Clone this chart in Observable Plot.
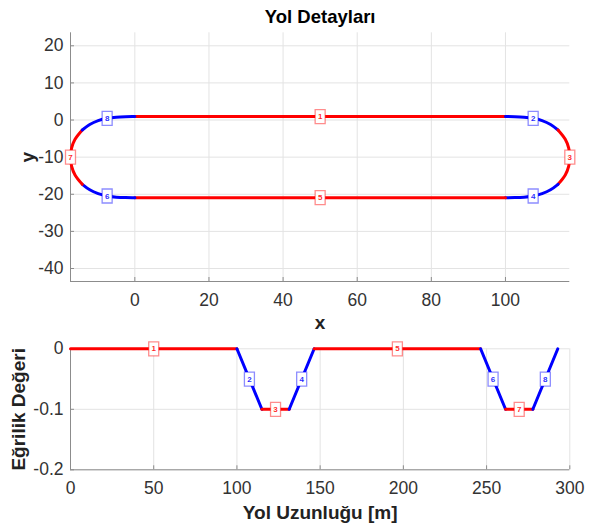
<!DOCTYPE html>
<html>
<head>
<meta charset="utf-8">
<script src="https://cdn.jsdelivr.net/npm/d3@7"></script>
<script src="https://cdn.jsdelivr.net/npm/@observablehq/plot@0.6"></script>
<style>
  html, body { margin: 0; padding: 0; background: #fff; }
  #chart { width: 600px; height: 527px; position: relative; background: #fff; }
  #chart svg { display: block; }
</style>
</head>
<body>
<div id="chart"></div>
<script>
// ---- Data ----
// Road segments: 1..8, with type (straight / clothoid / arc)
const segIds = [1, 2, 3, 4, 5, 6, 7, 8];
const segTypes = ["straight", "clothoid", "arc", "clothoid", "straight", "clothoid", "arc", "clothoid"];

// Road centre-line points (x, y), grouped by segment
const roadSeg = [
  1, 1,
  2, 2, 2, 2, 2, 2, 2,
  3, 3, 3, 3, 3, 3, 3,
  4, 4, 4, 4, 4, 4, 4,
  5, 5,
  6, 6, 6, 6, 6, 6, 6,
  7, 7, 7, 7, 7, 7, 7,
  8, 8, 8, 8, 8, 8, 8
];
const roadX = [
  0, 100,
  100, 102.5, 104.997, 107.474, 109.889, 112.165, 114.178,
  114.178, 116.138, 117.051, 117.362, 117.051, 116.138, 114.178,
  114.178, 112.165, 109.889, 107.474, 104.997, 102.5, 100,
  100, 0,
  0, -2.5, -4.997, -7.474, -9.889, -12.165, -14.178,
  -14.178, -16.138, -17.051, -17.362, -17.051, -16.138, -14.178,
  -14.178, -12.165, -9.889, -7.474, -4.997, -2.5, 0
];
const roadY = [
  0.919, 0.919,
  0.919, 0.902, 0.780, 0.462, -0.183, -1.209, -2.683,
  -2.683, -5.206, -7.526, -10, -12.474, -14.794, -17.317,
  -17.317, -18.791, -19.817, -20.462, -20.780, -20.902, -20.919,
  -20.919, -20.919,
  -20.919, -20.902, -20.780, -20.462, -19.817, -18.791, -17.317,
  -17.317, -14.794, -12.474, -10, -7.526, -5.206, -2.683,
  -2.683, -1.209, -0.183, 0.462, 0.780, 0.902, 0.919
];
// Segment label anchor points on the road
const labelX = [50, 107.474, 117.362, 107.474, 50, -7.474, -17.362, -7.474];
const labelY = [0.919, 0.462, -10, -20.462, -20.919, -20.462, -10, 0.462];

// Curvature profile: segment boundaries (road length, m) and curvature values
const kStation = [0, 100, 115, 131.4, 146.4, 246.4, 261.4, 277.8, 292.8];
const kValue   = [0, 0, -0.1, -0.1, 0, 0, -0.1, -0.1, 0];

// Tick labels
const topXTicks = [0, 20, 40, 60, 80, 100];
const topYTicks = [-40, -30, -20, -10, 0, 10, 20];
const botXTicks = [0, 50, 100, 150, 200, 250, 300];
const botYTicks = [-0.2, -0.1, 0];

// Texts
const titleText = "Yol Detayları";
const topXLabel = "x";
const topYLabel = "y";
const botXLabel = "Yol Uzunluğu [m]";
const botYLabel = "Eğrilik Değeri";

// ---- Styles ----
const typeColor = {straight: "#ff0000", arc: "#ff0000", clothoid: "#0000ff"};
const typeBorder = {straight: "rgba(255,0,0,0.45)", arc: "rgba(255,0,0,0.45)", clothoid: "rgba(0,0,255,0.45)"};
const FONT = "'Liberation Sans', Arial, Helvetica, sans-serif";
const gridColor = "#e3e3e3";
const axisColor = "#8c8c8c";
const tickTextColor = "#333";
const boxSymbol = { draw(ctx) { ctx.rect(-5, -7, 10, 14); } };

// ---- Build tables ----
const road = roadX.map((x, i) => ({x, y: roadY[i], seg: roadSeg[i], type: segTypes[roadSeg[i] - 1]}));
const topLabels = segIds.map((id, i) => ({id, x: labelX[i], y: labelY[i], type: segTypes[i]}));
const curv = [];
segIds.forEach((id, i) => {
  curv.push({s: kStation[i], k: kValue[i], seg: id, type: segTypes[i]});
  curv.push({s: kStation[i + 1], k: kValue[i + 1], seg: id, type: segTypes[i]});
});
const botLabels = segIds.map((id, i) => ({
  id,
  s: (kStation[i] + kStation[i + 1]) / 2,
  k: (kValue[i] + kValue[i + 1]) / 2,
  type: segTypes[i]
}));

const fmt = d => String(d);

function labelMarks(data, xk, yk) {
  return [
    Plot.dot(data, {x: xk, y: yk, symbol: boxSymbol, r: 5, fill: "white",
      stroke: d => typeBorder[d.type], strokeWidth: 1.3}),
    Plot.text(data, {x: xk, y: yk, text: d => String(d.id), fill: d => typeColor[d.type],
      fontSize: 8, fontWeight: "bold", fillOpacity: 0.85})
  ];
}

// ---- Top chart ----
const xDomTop = [-17.36, 117.36];
const yDomTop = [-43.5, 23.5];
const topChart = Plot.plot({
  width: 600, height: 335,
  marginTop: 32.3, marginBottom: 54, marginLeft: 70, marginRight: 30.7,
  x: {domain: xDomTop},
  y: {domain: yDomTop},
  color: {type: "identity"},
  style: {fontFamily: FONT, fontSize: "17.5px", color: tickTextColor, background: "white", overflow: "visible"},
  marks: [
    Plot.gridX(topXTicks, {stroke: gridColor, strokeOpacity: 1}),
    Plot.gridY(topYTicks, {stroke: gridColor, strokeOpacity: 1}),
    Plot.ruleX([xDomTop[0]], {stroke: axisColor}),
    Plot.ruleY([yDomTop[0]], {stroke: axisColor}),
    Plot.axisX({ticks: topXTicks, tickSize: 4, dy: -4, fill: "none", stroke: axisColor, label: null}),
    Plot.axisY({ticks: topYTicks, tickSize: 4, dx: 4, fill: "none", stroke: axisColor, label: null}),
    Plot.axisX({ticks: topXTicks, tickSize: 0, tickPadding: 12, tickFormat: fmt, label: null}),
    Plot.axisY({ticks: topYTicks, tickSize: 0, tickPadding: 7, tickFormat: fmt, label: null}),
    Plot.line(road, {x: "x", y: "y", z: "seg", stroke: d => typeColor[d.type], strokeWidth: 3, curve: "catmull-rom"}),
    ...labelMarks(topLabels, "x", "y"),
    Plot.text([titleText], {text: d => d, frameAnchor: "top", lineAnchor: "middle", dy: -15.5, fontWeight: "bold", fontSize: 18.5, fill: "#000"}),
    Plot.text([topXLabel], {text: d => d, frameAnchor: "bottom", lineAnchor: "middle", dy: 41, fontWeight: "bold", fontSize: 19, fill: "#222"}),
    Plot.text([topYLabel], {text: d => d, frameAnchor: "left", textAnchor: "middle", lineAnchor: "middle", dx: -43, rotate: -90, fontWeight: "bold", fontSize: 19, fill: "#222"})
  ]
});

// ---- Bottom chart ----
const xDomBot = [0, 300];
const yDomBot = [-0.2, 0];
const botChart = Plot.plot({
  width: 600, height: 192,
  marginTop: 13.3, marginBottom: 57.7, marginLeft: 70, marginRight: 30.7,
  x: {domain: xDomBot},
  y: {domain: yDomBot},
  color: {type: "identity"},
  style: {fontFamily: FONT, fontSize: "17.5px", color: tickTextColor, background: "white", overflow: "visible"},
  marks: [
    Plot.gridX(botXTicks, {stroke: gridColor, strokeOpacity: 1}),
    Plot.gridY(botYTicks, {stroke: gridColor, strokeOpacity: 1}),
    Plot.ruleX([xDomBot[0]], {stroke: axisColor}),
    Plot.ruleY([yDomBot[0]], {stroke: axisColor}),
    Plot.axisX({ticks: botXTicks, tickSize: 4, dy: -4, fill: "none", stroke: axisColor, label: null}),
    Plot.axisY({ticks: botYTicks, tickSize: 4, dx: 4, fill: "none", stroke: axisColor, label: null}),
    Plot.axisX({ticks: botXTicks, tickSize: 0, tickPadding: 12, tickFormat: fmt, label: null}),
    Plot.axisY({ticks: botYTicks, tickSize: 0, tickPadding: 7, tickFormat: fmt, label: null}),
    Plot.line(curv, {x: "s", y: "k", z: "seg", stroke: d => typeColor[d.type], strokeWidth: 3}),
    ...labelMarks(botLabels, "s", "k"),
    Plot.text([botXLabel], {text: d => d, frameAnchor: "bottom", lineAnchor: "middle", dy: 43.5, fontWeight: "bold", fontSize: 19, fill: "#222"}),
    Plot.text([botYLabel], {text: d => d, frameAnchor: "left", textAnchor: "middle", lineAnchor: "middle", dx: -52, rotate: -90, fontWeight: "bold", fontSize: 19, fill: "#222"})
  ]
});

const chart = document.getElementById("chart");
chart.appendChild(topChart);
chart.appendChild(botChart);
</script>
</body>
</html>
